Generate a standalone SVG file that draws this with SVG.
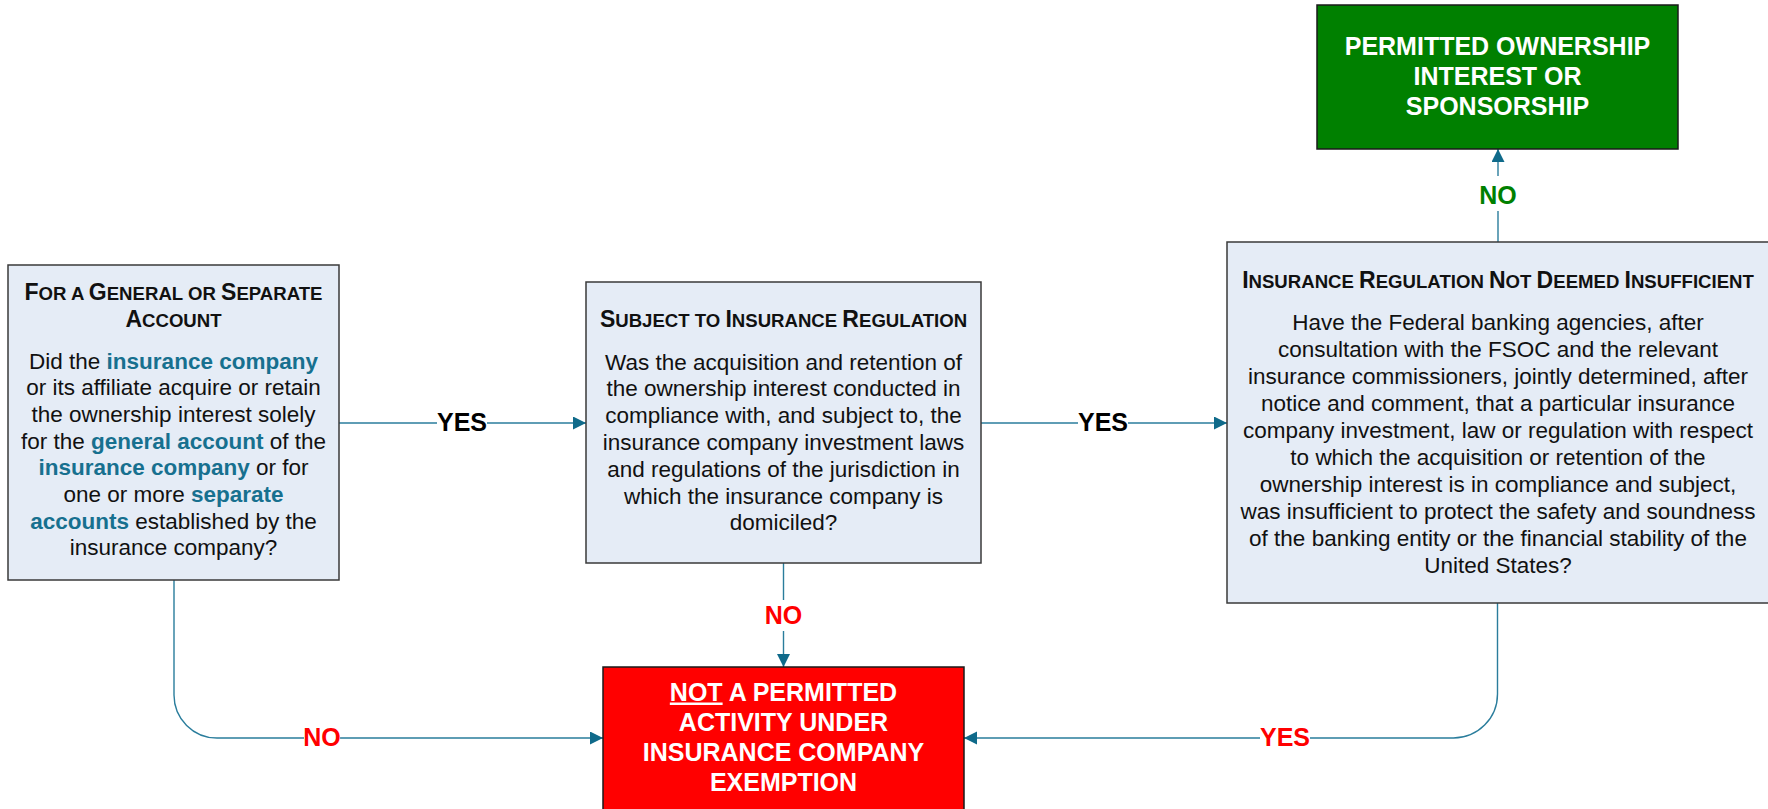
<svg xmlns="http://www.w3.org/2000/svg" width="1768" height="809" viewBox="0 0 1768 809">
<defs>
<style>
text{font-family:"Liberation Sans",Arial,sans-serif;}
.box{fill:#e5ecf6;stroke:#3a3a3a;stroke-width:1.5;}
.body{font-size:22.5px;fill:#111;text-anchor:middle;}
.hd{font-size:23px;font-weight:bold;fill:#111;text-anchor:middle;}
.sc{font-size:18.6px;}
.hl{font-weight:bold;fill:#17708f;}
.term{font-size:25px;font-weight:bold;fill:#fff;text-anchor:middle;}
.conn{fill:none;stroke:#2a7d9c;stroke-width:1.4;}
.lbl{font-size:25px;font-weight:bold;text-anchor:middle;}
.bg{fill:#fff;}
</style>
<marker id="arr" markerUnits="userSpaceOnUse" markerWidth="14" markerHeight="14" refX="13" refY="6.5" orient="auto">
<path d="M0,0 L13,6.5 L0,13 z" fill="#0f6a8a"/>
</marker>
</defs>
<rect width="1768" height="809" fill="#fff"/>

<g id="connectors">
<path class="conn" d="M339,423 H586" marker-end="url(#arr)"/>
<path class="conn" d="M981,423 H1227" marker-end="url(#arr)"/>
<path class="conn" d="M783.5,563 V667" marker-end="url(#arr)"/>
<path class="conn" d="M174,580 V695 A43,43 0 0 0 217,738 H603" marker-end="url(#arr)"/>
<path class="conn" d="M1497.5,603 V694 A44,44 0 0 1 1453.5,738 H964" marker-end="url(#arr)"/>
<path class="conn" d="M1498,242 V149" marker-end="url(#arr)"/>
<rect class="bg" x="437" y="410" width="50" height="26"/>
<text class="lbl" x="462" y="431" fill="#000">YES</text>
<rect class="bg" x="1078" y="410" width="50" height="26"/>
<text class="lbl" x="1103" y="431" fill="#000">YES</text>
<rect class="bg" x="764" y="600" width="40" height="31"/>
<text class="lbl" x="783.5" y="623.5" fill="#ff0000">NO</text>
<rect class="bg" x="304" y="725" width="36" height="26"/>
<text class="lbl" x="322" y="746" fill="#ff0000">NO</text>
<rect class="bg" x="1260" y="725" width="50" height="26"/>
<text class="lbl" x="1285" y="746" fill="#ff0000">YES</text>
<rect class="bg" x="1478" y="176" width="40" height="35"/>
<text class="lbl" x="1498" y="203.5" fill="#008000">NO</text>
</g>

<g id="node-general-account">
<rect class="box" x="8" y="265" width="331" height="315"/>
<text class="hd" x="173.5" y="300">F<tspan class="sc">OR A </tspan>G<tspan class="sc">ENERAL OR </tspan>S<tspan class="sc">EPARATE</tspan></text>
<text class="hd" x="173.5" y="327">A<tspan class="sc">CCOUNT</tspan></text>
<text class="body" x="173.5" y="368.5">Did the <tspan class="hl">insurance company</tspan></text>
<text class="body" x="173.5" y="395.2">or its affiliate acquire or retain</text>
<text class="body" x="173.5" y="421.9">the ownership interest solely</text>
<text class="body" x="173.5" y="448.6">for the <tspan class="hl">general account</tspan> of the</text>
<text class="body" x="173.5" y="475.3"><tspan class="hl">insurance company</tspan> or for</text>
<text class="body" x="173.5" y="502">one or more <tspan class="hl">separate</tspan></text>
<text class="body" x="173.5" y="528.7"><tspan class="hl">accounts</tspan> established by the</text>
<text class="body" x="173.5" y="555.4">insurance company?</text>
</g>

<g id="node-insurance-regulation">
<rect class="box" x="586" y="282" width="395" height="281"/>
<text class="hd" x="783.5" y="327">S<tspan class="sc">UBJECT TO </tspan>I<tspan class="sc">NSURANCE </tspan>R<tspan class="sc">EGULATION</tspan></text>
<text class="body" x="783.5" y="369.5">Was the acquisition and retention of</text>
<text class="body" x="783.5" y="396.3">the ownership interest conducted in</text>
<text class="body" x="783.5" y="423.1">compliance with, and subject to, the</text>
<text class="body" x="783.5" y="449.9">insurance company investment laws</text>
<text class="body" x="783.5" y="476.7">and regulations of the jurisdiction in</text>
<text class="body" x="783.5" y="503.5">which the insurance company is</text>
<text class="body" x="783.5" y="530.3">domiciled?</text>
</g>

<g id="node-not-deemed-insufficient">
<rect class="box" x="1227" y="242" width="560" height="361"/>
<text class="hd" x="1498" y="287.5">I<tspan class="sc">NSURANCE </tspan>R<tspan class="sc">EGULATION </tspan>N<tspan class="sc">OT </tspan>D<tspan class="sc">EEMED </tspan>I<tspan class="sc">NSUFFICIENT</tspan></text>
<text class="body" x="1498" y="329.5">Have the Federal banking agencies, after</text>
<text class="body" x="1498" y="356.5">consultation with the FSOC and the relevant</text>
<text class="body" x="1498" y="383.5">insurance commissioners, jointly determined, after</text>
<text class="body" x="1498" y="410.5">notice and comment, that a particular insurance</text>
<text class="body" x="1498" y="437.5">company investment, law or regulation with respect</text>
<text class="body" x="1498" y="464.5">to which the acquisition or retention of the</text>
<text class="body" x="1498" y="491.5">ownership interest is in compliance and subject,</text>
<text class="body" x="1498" y="518.5">was insufficient to protect the safety and soundness</text>
<text class="body" x="1498" y="545.5">of the banking entity or the financial stability of the</text>
<text class="body" x="1498" y="572.5">United States?</text>
</g>

<g id="node-permitted">
<rect x="1317" y="5" width="361" height="144" fill="#008000" stroke="#1a1a1a" stroke-width="1.5"/>
<text class="term" x="1497.5" y="55">PERMITTED OWNERSHIP</text>
<text class="term" x="1497.5" y="84.5">INTEREST OR</text>
<text class="term" x="1497.5" y="114.5">SPONSORSHIP</text>
</g>

<g id="node-not-permitted">
<rect x="603" y="667" width="361" height="160" fill="#ff0000" stroke="#1a1a1a" stroke-width="1.5"/>
<text class="term" x="783.5" y="700.5"><tspan text-decoration="underline">NOT</tspan> A PERMITTED</text>
<text class="term" x="783.5" y="730.5">ACTIVITY UNDER</text>
<text class="term" x="783.5" y="760.5">INSURANCE COMPANY</text>
<text class="term" x="783.5" y="790.5">EXEMPTION</text>
</g>
</svg>
